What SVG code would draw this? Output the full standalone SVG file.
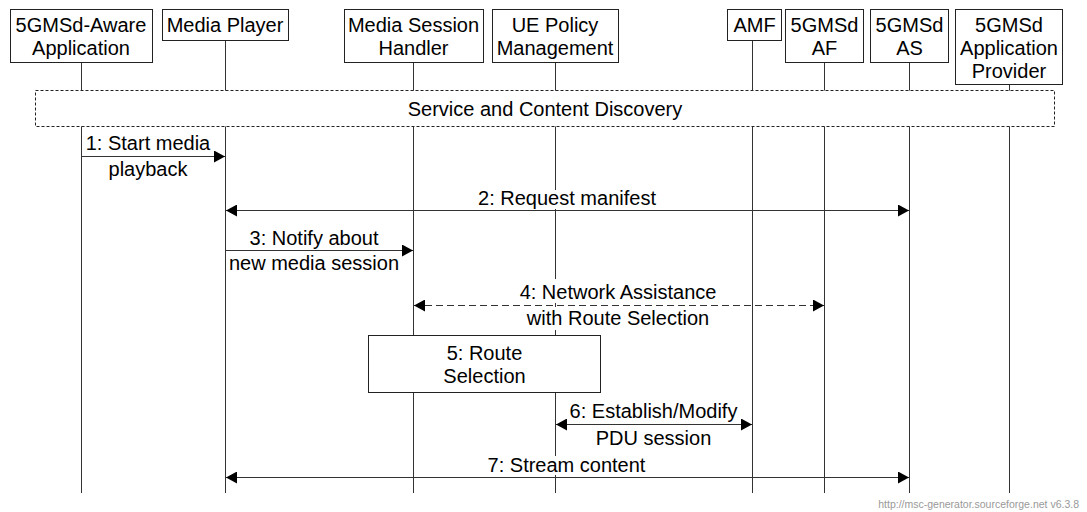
<svg xmlns="http://www.w3.org/2000/svg" width="1087" height="512" viewBox="0 0 1087 512">
<style>
text{font-family:"Liberation Sans",Arial,sans-serif;font-size:20px;fill:#000;text-anchor:middle}
.box{fill:#fff;stroke:#222;stroke-width:1}
.life{stroke:#333;stroke-width:1;fill:none}
.arr{stroke:#333;stroke-width:1;fill:none}
.bg{fill:#fff;stroke:none}
.foot{font-size:10.5px;fill:#999;text-anchor:end}
</style>
<defs>
<marker id="ah" markerWidth="11" markerHeight="12" refX="11" refY="6" orient="auto-start-reverse" markerUnits="userSpaceOnUse">
<path d="M0,0 L11,6 L0,12 z" fill="#000"/>
</marker>
</defs>
<g id="lifelines">
<line class="life" x1="81.5" y1="62" x2="81.5" y2="493"/>
<line class="life" x1="225.5" y1="40" x2="225.5" y2="493"/>
<line class="life" x1="413.5" y1="62" x2="413.5" y2="493"/>
<line class="life" x1="555.5" y1="62" x2="555.5" y2="493"/>
<line class="life" x1="752.5" y1="40" x2="752.5" y2="493"/>
<line class="life" x1="824.5" y1="62" x2="824.5" y2="493"/>
<line class="life" x1="909.5" y1="62" x2="909.5" y2="493"/>
<line class="life" x1="1009.5" y1="84" x2="1009.5" y2="493"/>
</g>
<g id="app"><rect class="box" x="10.5" y="9.5" width="142" height="53"/><text x="81" y="32">5GMSd-Aware</text><text x="81" y="55">Application</text></g>
<g id="mp"><rect class="box" x="162.5" y="9.5" width="126" height="31"/><text x="225" y="32">Media Player</text></g>
<g id="msh"><rect class="box" x="344.5" y="9.5" width="139" height="53"/><text x="413.5" y="32">Media Session</text><text x="413.5" y="55">Handler</text></g>
<g id="uepm"><rect class="box" x="492.5" y="9.5" width="126" height="53"/><text x="555" y="32">UE Policy</text><text x="555" y="55">Management</text></g>
<g id="amf"><rect class="box" x="727.5" y="9.5" width="54" height="31"/><text x="754.5" y="32">AMF</text></g>
<g id="af"><rect class="box" x="785.5" y="9.5" width="78" height="53"/><text x="824.5" y="32">5GMSd</text><text x="824.5" y="55">AF</text></g>
<g id="as"><rect class="box" x="870.5" y="9.5" width="78" height="53"/><text x="909.5" y="32">5GMSd</text><text x="909.5" y="55">AS</text></g>
<g id="ap"><rect class="box" x="955.5" y="9.5" width="107" height="75"/><text x="1009" y="32">5GMSd</text><text x="1009" y="55">Application</text><text x="1009" y="78">Provider</text></g>
<g id="discovery"><rect x="35.5" y="90.5" width="1019" height="36" fill="#fff" stroke="#222" stroke-width="1" stroke-dasharray="3,2"/><text x="545" y="116">Service and Content Discovery</text></g>
<g id="labelbg">
<rect class="bg" x="475" y="190" width="186" height="19"/>
<rect class="bg" x="515" y="279" width="206" height="24"/>
<rect class="bg" x="524" y="307" width="190" height="23"/>
<rect class="bg" x="485" y="456" width="164" height="19"/>
</g>
<g id="step5"><rect class="box" x="368.5" y="335.5" width="232" height="57"/><text x="484.5" y="360">5: Route</text><text x="484.5" y="383">Selection</text></g>
<g id="connectors">
<line class="arr" x1="81.5" y1="156.5" x2="225" y2="156.5" marker-end="url(#ah)"/>
<line class="arr" x1="226" y1="210.5" x2="909" y2="210.5" marker-start="url(#ah)" marker-end="url(#ah)"/>
<line class="arr" x1="225.5" y1="250.5" x2="413" y2="250.5" marker-end="url(#ah)"/>
<line class="arr" x1="414" y1="305.5" x2="824" y2="305.5" stroke-dasharray="7,4" marker-start="url(#ah)" marker-end="url(#ah)"/>
<line class="arr" x1="556" y1="424.5" x2="752" y2="424.5" marker-start="url(#ah)" marker-end="url(#ah)"/>
<line class="arr" x1="226" y1="477.5" x2="909" y2="477.5" marker-start="url(#ah)" marker-end="url(#ah)"/>
</g>
<g id="labels">
<text x="148" y="150">1: Start media</text>
<text x="148" y="176">playback</text>
<text x="567" y="205">2: Request manifest</text>
<text x="314" y="245">3: Notify about</text>
<text x="314" y="270">new media session</text>
<text x="618" y="299">4: Network Assistance</text>
<text x="618" y="325">with Route Selection</text>
<text x="653.5" y="418">6: Establish/Modify</text>
<text x="653.5" y="445">PDU session</text>
<text x="566.5" y="472">7: Stream content</text>
</g>
<text class="foot" x="1079" y="508">http://msc-generator.sourceforge.net v6.3.8</text>
</svg>
